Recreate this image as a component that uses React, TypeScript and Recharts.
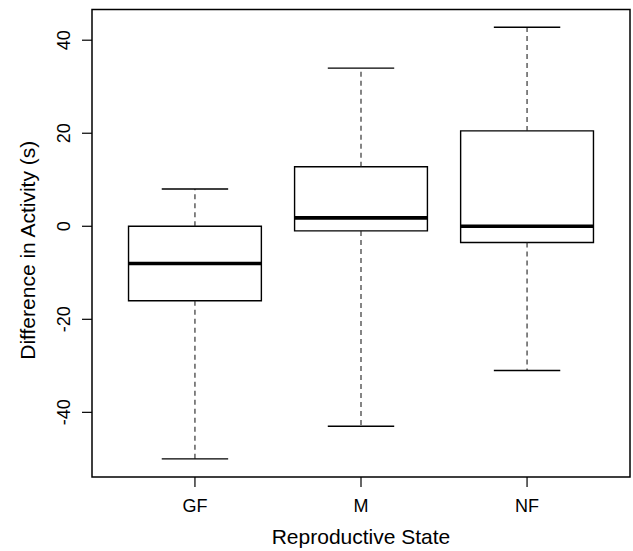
import React from "react";
import {
  ComposedChart,
  XAxis,
  YAxis,
  ReferenceArea,
  ReferenceLine,
} from "recharts";

const groups = ["GF", "M", "NF"];
const lowerWhisker = [-50, -43, -31];
const q1 = [-16, -1, -3.5];
const median = [-8, 1.8, 0];
const q3 = [0, 12.8, 20.5];
const upperWhisker = [8, 34, 42.8];
const yTicks = [-40, -20, 0, 20, 40];

const X_MIN = 0.38;
const X_MAX = 3.62;
const Y_MIN = -53.9;
const Y_MAX = 46.6;
const BOX_HALF = 0.4;
const CAP_HALF = 0.2;

const FONT = "'Liberation Sans', Arial, Helvetica, sans-serif";

const data = groups.map((g, i) => ({
  pos: i + 1,
  group: g,
  lo: lowerWhisker[i],
  q1: q1[i],
  med: median[i],
  q3: q3[i],
  hi: upperWhisker[i],
}));

function YTick({ x, y, payload }: any) {
  return (
    <text
      transform={`translate(${x - 12}, ${y}) rotate(-90)`}
      textAnchor="middle"
      fontFamily={FONT}
      fontSize={18}
      fill="#000"
    >
      {payload.value}
    </text>
  );
}

function XTick({ x, y, payload }: any) {
  return (
    <text
      x={x}
      y={y + 25}
      textAnchor="middle"
      fontFamily={FONT}
      fontSize={18}
      fill="#000"
    >
      {groups[payload.value - 1]}
    </text>
  );
}

export default function App() {
  return (
    <div style={{ position: "absolute", left: 0, top: 0, background: "#fff" }}>
      <ComposedChart
        width={633}
        height={551}
        data={data}
        margin={{ top: 9.5, right: 3, left: 0, bottom: 0 }}
      >
        <XAxis
          dataKey="pos"
          type="number"
          domain={[X_MIN, X_MAX]}
          ticks={[1, 2, 3]}
          height={74}
          axisLine={false}
          tickLine={{ stroke: "#000", strokeWidth: 1.2 }}
          tickSize={10}
          tickMargin={0}
          tick={<XTick />}
          allowDataOverflow
          label={{
            content: ({ viewBox }: any) => (
              <text
                x={viewBox.x + viewBox.width / 2}
                y={viewBox.y + 67}
                textAnchor="middle"
                fontFamily={FONT}
                fontSize={21}
                fill="#000"
              >
                Reproductive State
              </text>
            ),
          }}
        />
        <YAxis
          type="number"
          domain={[Y_MIN, Y_MAX]}
          ticks={yTicks}
          width={92}
          axisLine={false}
          tickLine={{ stroke: "#000", strokeWidth: 1.2 }}
          tickSize={10}
          tickMargin={0}
          tick={<YTick />}
          allowDataOverflow
          label={{
            content: ({ viewBox }: any) => (
              <text
                transform={`translate(35, ${viewBox.y + viewBox.height / 2 + 7}) rotate(-90)`}
                textAnchor="middle"
                fontFamily={FONT}
                fontSize={21}
                fill="#000"
              >
                Difference in Activity (s)
              </text>
            ),
          }}
        />
        {data.map((d) => (
          <ReferenceLine
            key={`wu-${d.group}`}
            segment={[
              { x: d.pos, y: d.q3 },
              { x: d.pos, y: d.hi },
            ]}
            stroke="#222"
            strokeWidth={1.1}
            strokeDasharray="5 4"
          />
        ))}
        {data.map((d) => (
          <ReferenceLine
            key={`wl-${d.group}`}
            segment={[
              { x: d.pos, y: d.q1 },
              { x: d.pos, y: d.lo },
            ]}
            stroke="#222"
            strokeWidth={1.1}
            strokeDasharray="5 4"
          />
        ))}
        {data.map((d) => (
          <ReferenceLine
            key={`cu-${d.group}`}
            segment={[
              { x: d.pos - CAP_HALF, y: d.hi },
              { x: d.pos + CAP_HALF, y: d.hi },
            ]}
            stroke="#000"
            strokeWidth={1.4}
          />
        ))}
        {data.map((d) => (
          <ReferenceLine
            key={`cl-${d.group}`}
            segment={[
              { x: d.pos - CAP_HALF, y: d.lo },
              { x: d.pos + CAP_HALF, y: d.lo },
            ]}
            stroke="#000"
            strokeWidth={1.4}
          />
        ))}
        {data.map((d) => (
          <ReferenceArea
            key={`box-${d.group}`}
            x1={d.pos - BOX_HALF}
            x2={d.pos + BOX_HALF}
            y1={d.q1}
            y2={d.q3}
            fill="#fff"
            fillOpacity={1}
            stroke="#000"
            strokeWidth={1.4}
          />
        ))}
        {data.map((d) => (
          <ReferenceLine
            key={`med-${d.group}`}
            segment={[
              { x: d.pos - BOX_HALF, y: d.med },
              { x: d.pos + BOX_HALF, y: d.med },
            ]}
            stroke="#000"
            strokeWidth={3.6}
          />
        ))}
        <ReferenceArea
          x1={X_MIN}
          x2={X_MAX}
          y1={Y_MIN}
          y2={Y_MAX}
          fill="none"
          stroke="#000"
          strokeWidth={1.5}
        />
      </ComposedChart>
    </div>
  );
}
